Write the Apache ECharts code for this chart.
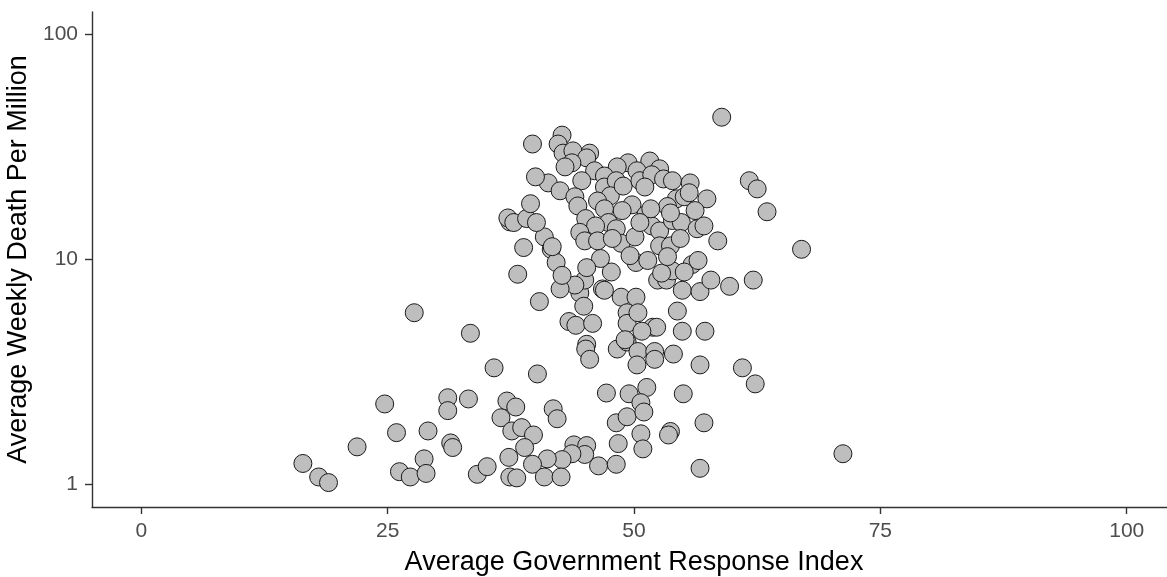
<!DOCTYPE html>
<html>
<head>
<meta charset="utf-8">
<script src="https://cdn.jsdelivr.net/npm/echarts@6/dist/echarts.min.js"></script>
<style>
  html, body { margin: 0; padding: 0; background: #ffffff; }
  #chart { width: 1167px; height: 577px; }
</style>
</head>
<body>
<div id="chart"></div>
<script>
// Average government response index per country (x)
const govResponseIndex = [
  27.7, 33.4, 24.7, 31.1, 33.2, 31.1, 25.9, 29.1, 31.4, 31.6,
  21.9, 16.4, 18.0, 19.0, 28.7, 26.2, 27.3, 28.9, 34.1,
  40.2, 37.1, 38.0, 36.5, 41.8, 42.2, 47.2, 49.5, 48.2, 49.3,
  37.6, 38.6, 39.8, 38.9, 43.9, 45.2, 45.0, 43.7, 42.7, 41.2,
  48.4, 37.3, 39.7, 35.1, 37.4, 38.1, 40.9, 42.6, 46.4, 48.2,
  51.3, 50.7, 51.0, 55.0, 62.3, 57.1, 53.7, 53.5, 50.7, 50.9, 56.7, 71.2,
  38.2, 40.4, 35.8, 44.5, 46.8, 45.0, 48.7, 44.9, 43.4, 44.1,
  45.8, 45.2, 45.1, 45.5, 48.3, 49.3, 49.3, 49.3,
  52.4, 53.3, 54.9, 56.7, 57.8, 59.7, 62.1, 50.2, 50.4, 54.4,
  51.9, 52.3, 50.8, 54.9, 57.2, 49.1, 50.4, 52.1, 52.1, 54.0, 50.3, 56.7, 61.0,
  58.9, 42.7, 39.7, 42.3, 45.5, 42.8, 43.8, 45.2, 49.4, 51.6,
  48.3, 50.3, 52.6, 43.7, 46.0, 43.0, 47.0, 41.3, 40.0, 44.7,
  42.5, 44.0, 47.0, 48.2, 47.6, 48.9, 50.6, 51.8, 53.0, 53.9,
  55.7, 54.3, 55.1, 53.4, 51.1, 49.8, 48.8, 46.3, 47.0, 44.3,
  45.1, 47.4, 46.1, 44.5, 45.0, 46.3, 48.2, 48.7, 50.1, 51.2,
  51.8, 52.6, 53.9, 52.6, 53.7, 54.8, 54.7, 56.4, 57.1, 55.6,
  53.7, 51.7, 50.6, 47.8, 40.9, 41.6, 42.1, 41.7, 38.8, 37.4,
  37.2, 37.8, 39.1, 40.1, 39.5, 55.9, 53.9, 55.1, 56.5, 61.7,
  62.5, 63.5, 67.0, 52.8, 53.4, 50.2, 49.6, 47.7, 46.6, 45.2,
  44.0, 42.5, 42.7, 47.0, 58.5, 57.4, 56.2, 51.4
];

// Average weekly deaths per million, same order (y, log scale)
const weeklyDeathsPerMillion = [
  5.8, 4.7, 2.28, 2.43, 2.40, 2.13, 1.70, 1.73, 1.53, 1.46,
  1.47, 1.24, 1.08, 1.02, 1.30, 1.14, 1.08, 1.12, 1.11,
  3.1, 2.35, 2.21, 1.98, 2.17, 1.96, 2.55, 2.53, 1.88, 2.00,
  1.73, 1.79, 1.66, 1.46, 1.50, 1.49, 1.36, 1.37, 1.29, 1.30,
  1.52, 1.32, 1.23, 1.20, 1.08, 1.07, 1.08, 1.08, 1.21, 1.23,
  2.7, 2.31, 2.10, 2.53, 2.8, 1.88, 1.72, 1.66, 1.68, 1.44, 1.18, 1.37,
  8.6, 6.5, 3.3, 7.1, 7.4, 8.1, 6.8, 6.2, 5.3, 5.1,
  5.2, 4.2, 4.0, 3.6, 4.0, 5.8, 5.2, 4.3,
  8.1, 8.1, 7.3, 7.2, 8.1, 7.6, 8.1, 6.8, 5.8, 5.9,
  5.0, 5.0, 4.8, 4.8, 4.8, 4.4, 3.9, 3.9, 3.6, 3.8, 3.4, 3.4, 3.3,
  42.9, 35.7, 32.6, 32.6, 29.7, 29.7, 30.4, 28.3, 26.9, 27.4,
  25.8, 24.8, 25.3, 26.9, 24.8, 25.8, 23.5, 21.9, 23.3, 22.4,
  20.2, 19.0, 21.0, 22.4, 19.2, 21.2, 22.4, 23.8, 22.8, 22.4,
  21.9, 18.6, 19.0, 17.2, 21.0, 17.5, 16.5, 18.2, 16.8, 17.3,
  15.2, 14.6, 14.1, 13.2, 12.1, 12.1, 13.7, 11.8, 12.6, 15.8,
  14.1, 13.4, 14.9, 11.5, 11.5, 14.6, 12.4, 13.7, 14.1, 19.8,
  16.1, 16.8, 14.6, 12.4, 12.6, 11.1, 9.7, 11.4, 11.3, 14.7,
  15.3, 14.6, 15.2, 14.6, 17.7, 9.5, 8.9, 8.8, 9.9, 22.4,
  20.6, 16.3, 11.1, 8.7, 10.3, 9.7, 10.4, 8.8, 10.1, 9.2,
  7.7, 7.4, 8.5, 7.3, 12.1, 18.6, 16.5, 9.9
];

const xTicks = [0, 25, 50, 75, 100];
const yTicks = [1, 10, 100];

const xTitle = 'Average Government Response Index';
const yTitle = 'Average Weekly Death Per Million';

// The y axis is a base-10 log scale: plot log10 of each value on a value axis
const points = govResponseIndex.map((x, i) => [x, Math.log10(weeklyDeathsPerMillion[i])]);
const yTickLogs = yTicks.map(v => Math.log10(v));

const FONT = '"Liberation Sans", Arial, sans-serif';
const axisLineStyle = { color: '#333333', width: 1.4 };

const chart = echarts.init(document.getElementById('chart'), null, { renderer: 'canvas' });

chart.setOption({
  animation: false,
  backgroundColor: '#ffffff',
  // the panel runs slightly past the right edge of the canvas
  grid: { left: 92, top: 12, right: -9, bottom: 70, containLabel: false, outerBoundsMode: 'none' },
  xAxis: {
    type: 'value',
    min: -5,
    max: 105,
    splitLine: { show: false },
    axisLine: { show: true, onZero: false, lineStyle: axisLineStyle },
    axisTick: { show: true, length: 7, lineStyle: axisLineStyle, customValues: xTicks },
    axisLabel: {
      customValues: xTicks,
      color: '#4D4D4D', fontSize: 21, fontFamily: FONT, margin: 14
    },
    name: xTitle,
    nameLocation: 'middle',
    nameGap: 42,
    nameTextStyle: { color: '#000000', fontSize: 27, fontFamily: FONT }
  },
  yAxis: {
    type: 'value',
    min: -0.1,
    max: 2.1,
    splitLine: { show: false },
    axisLine: { show: true, onZero: false, lineStyle: axisLineStyle },
    axisTick: { show: true, length: 7, lineStyle: axisLineStyle, customValues: yTickLogs },
    axisLabel: {
      customValues: yTickLogs,
      formatter: v => String(Math.round(Math.pow(10, v))),
      color: '#4D4D4D', fontSize: 21, fontFamily: FONT, margin: 14
    },
    name: yTitle,
    nameLocation: 'middle',
    nameGap: 47,
    nameRotate: 90,
    nameTextStyle: { color: '#000000', fontSize: 27, fontFamily: FONT }
  },
  series: [{
    type: 'scatter',
    data: points,
    symbol: 'circle',
    symbolSize: 18,
    clip: false,
    itemStyle: { color: '#BEBEBE', borderColor: '#1a1a1a', borderWidth: 1, opacity: 1 },
    emphasis: { disabled: true }
  }]
});
</script>
</body>
</html>
